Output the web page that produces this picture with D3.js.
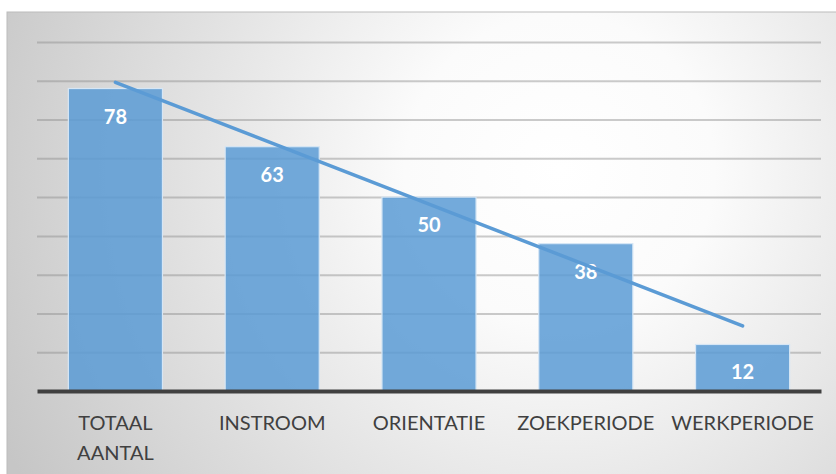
<!DOCTYPE html>
<html>
<head>
<meta charset="utf-8">
<script src="https://cdn.jsdelivr.net/npm/d3@7"></script>
<style>
  html, body { margin: 0; padding: 0; background: #ffffff; }
  svg { display: block; }
</style>
</head>
<body>
<svg id="chart" width="836" height="474"></svg>
<script>
// Phase labels and participant counts
const categories = ["TOTAAL AANTAL", "INSTROOM", "ORIENTATIE", "ZOEKPERIODE", "WERKPERIODE"];
const values = [78, 63, 50, 38, 12];
const yTicks = [0, 10, 20, 30, 40, 50, 60, 70, 80, 90];

const svg = d3.select("#chart");
const W = 836, H = 474;

// Chart frame with a soft radial fill
const defs = svg.append("defs");
const grad = defs.append("radialGradient")
  .attr("id", "bg")
  .attr("gradientUnits", "userSpaceOnUse")
  .attr("cx", 560).attr("cy", 170).attr("r", 620);
grad.append("stop").attr("offset", 0).attr("stop-color", "#ffffff");
grad.append("stop").attr("offset", 0.25).attr("stop-color", "#fbfbfb");
grad.append("stop").attr("offset", 1).attr("stop-color", "#c6c6c6");

svg.append("rect")
  .attr("x", 7).attr("y", 12)
  .attr("width", W - 7 + 2).attr("height", H - 12 + 2)
  .attr("fill", "url(#bg)")
  .attr("stroke", "#bcbcbc").attr("stroke-width", 1);

// Plot area
const plot = { left: 37, right: 821, top: 42, bottom: 391 };

const x = d3.scaleBand()
  .domain(categories)
  .range([plot.left, plot.right])
  .paddingInner(0.4)
  .paddingOuter(0.2);

const y = d3.scaleLinear()
  .domain([0, 90])
  .range([plot.bottom, plot.top]);

const cx = c => x(c) + x.bandwidth() / 2;

// Horizontal gridlines
const yAxis = d3.axisLeft(y)
  .tickValues(yTicks.filter(d => d > 0))
  .tickSize(-(plot.right - plot.left))
  .tickFormat("");
const gy = svg.append("g")
  .attr("transform", `translate(${plot.left},0)`)
  .call(yAxis);
gy.select(".domain").remove();
gy.selectAll(".tick line")
  .attr("stroke", "#8c8c8c")
  .attr("stroke-opacity", 0.45)
  .attr("stroke-width", 2);

// Bars
svg.append("g").selectAll("rect")
  .data(values)
  .join("rect")
  .attr("x", (d, i) => x(categories[i]))
  .attr("y", d => y(d))
  .attr("width", x.bandwidth())
  .attr("height", d => y(0) - y(d))
  .attr("fill", "#5b9bd5")
  .attr("fill-opacity", 0.85)
  .attr("stroke", "#d6e6f5")
  .attr("stroke-width", 1.2);

// Category axis
const xAxis = d3.axisBottom(x).tickSize(0).tickPadding(0);
const gx = svg.append("g")
  .attr("transform", `translate(0,${plot.bottom})`)
  .call(xAxis);
gx.select(".domain")
  .attr("stroke", "#404040")
  .attr("stroke-width", 4);
gx.selectAll(".tick text").remove();
gx.selectAll(".tick").each(function (d) {
  const words = d.split(" ");
  const t = d3.select(this).append("text")
    .attr("fill", "#404040")
    .attr("font-family", "Lato, 'Open Sans', sans-serif")
    .attr("font-size", 20)
    .attr("text-anchor", "middle");
  words.forEach((w, k) => {
    t.append("tspan")
      .attr("x", 0)
      .attr("y", 39 + k * 30)
      .text(w);
  });
});

// Value labels inside the bar tops
svg.append("g").selectAll("text")
  .data(values)
  .join("text")
  .attr("x", (d, i) => cx(categories[i]))
  .attr("y", d => y(d) + 35)
  .attr("text-anchor", "middle")
  .attr("fill", "#ffffff")
  .attr("font-family", "Lato, 'Open Sans', sans-serif")
  .attr("font-weight", "bold")
  .attr("font-size", 20)
  .text(d => d);

// Linear trend through the counts (least squares), drawn from first to last category
const n = values.length;
const xs = d3.range(1, n + 1);
const mx = d3.mean(xs), my = d3.mean(values);
const slope = d3.sum(xs, (xi, i) => (xi - mx) * (values[i] - my)) /
              d3.sum(xs, xi => (xi - mx) * (xi - mx));
const trendEnds = [
  { cat: categories[0], v: my + slope * (xs[0] - mx) },
  { cat: categories[n - 1], v: my + slope * (xs[n - 1] - mx) }
];

svg.append("path")
  .datum(trendEnds)
  .attr("d", d3.line().x(d => cx(d.cat)).y(d => y(d.v)))
  .attr("fill", "none")
  .attr("stroke", "#5b9bd5")
  .attr("stroke-width", 3.5)
  .attr("stroke-linecap", "round");
</script>
</body>
</html>
